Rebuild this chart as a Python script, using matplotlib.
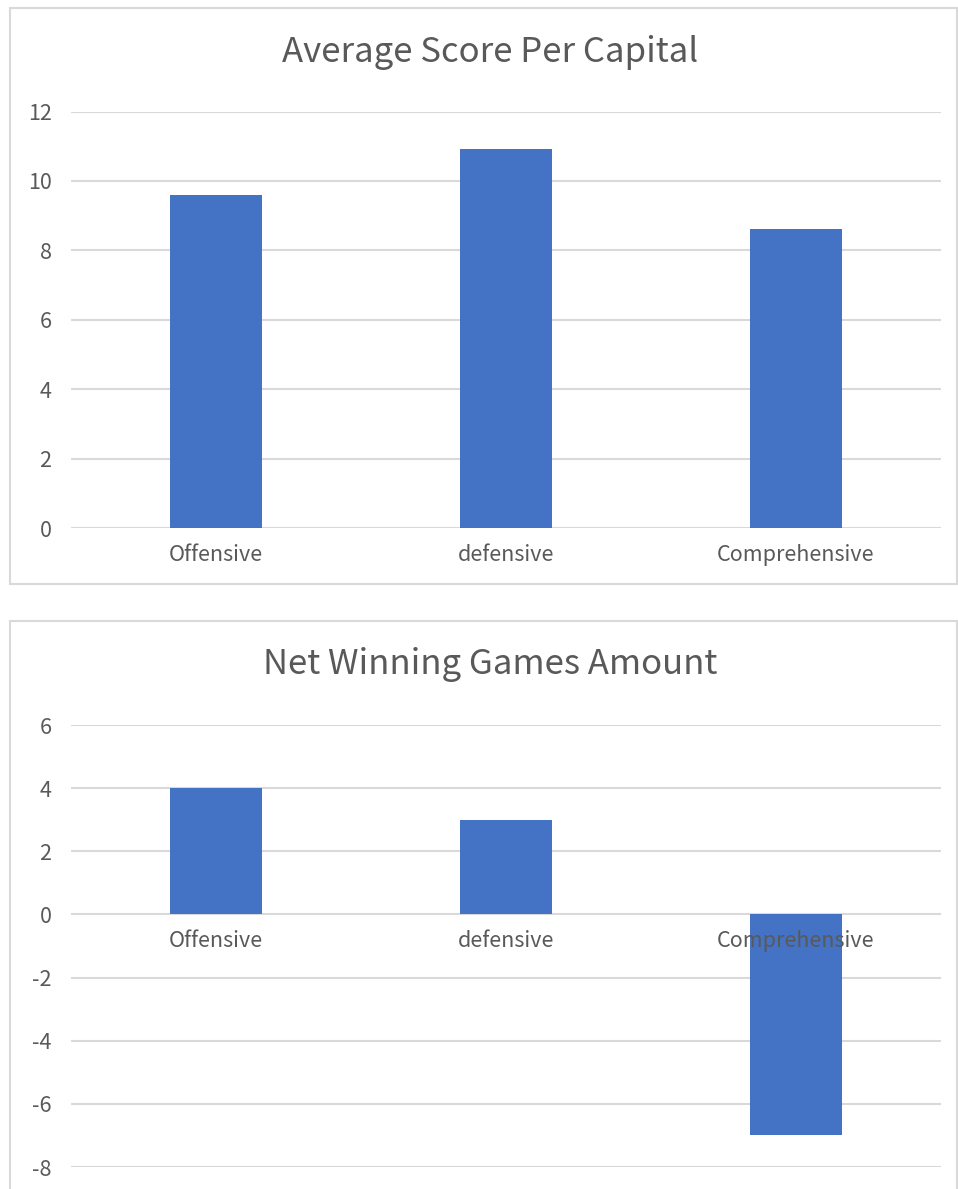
import matplotlib.pyplot as plt
from matplotlib.patches import Rectangle

plt.rcParams['font.family'] = ['Noto Sans CJK SC', 'DejaVu Sans']

categories = ["Offensive", "defensive", "Comprehensive"]
avg_score = [9.58, 10.92, 8.61]
net_wins = [4, 3, -7]

bar_color = "#4472C4"
grid_color = "#D9D9D9"
text_color = "#595959"

W, H = 958, 1189
fig = plt.figure(figsize=(W / 100, H / 100), dpi=100)


def px_axes(x0, y0, x1, y1):
    # pixel box (top-left origin) -> figure fraction axes
    return fig.add_axes([x0 / W, 1 - y1 / H, (x1 - x0) / W, (y1 - y0) / H])


def frame(x0, y0, x1, y1):
    fig.patches.append(Rectangle((x0 / W, 1 - y1 / H), (x1 - x0) / W, (y1 - y0) / H,
                                 transform=fig.transFigure, fill=False,
                                 edgecolor=grid_color, linewidth=1.5, zorder=0))


def draw(ax, values, ylim, ticks, title, title_y):
    ax.bar(range(len(values)), values, width=0.314, color=bar_color, zorder=2)
    ax.set_xlim(-0.5, len(values) - 0.5)
    ax.set_ylim(*ylim)
    ax.set_yticks(ticks)
    ax.set_yticklabels([str(t) for t in ticks])
    ax.set_xticks([])
    for t in ticks:
        ax.axhline(t, color=grid_color, linewidth=1.5, zorder=1)
    for s in ax.spines.values():
        s.set_visible(False)
    ax.tick_params(axis='y', length=0, pad=14, labelsize=15.5, labelcolor=text_color)
    for i, c in enumerate(categories):
        ax.annotate(c, (i, 0), xytext=(0, -11.5), textcoords='offset points',
                    ha='center', va='top', fontsize=15.5, color=text_color, zorder=3)
    fig.text(490 / W, 1 - title_y / H, title, ha='center', va='center',
             fontsize=25, color=text_color)


frame(10, 8, 957, 584)
frame(10, 621, 957, 1200)

ax1 = px_axes(71, 111.5, 941, 528)
draw(ax1, avg_score, (0, 12), list(range(0, 13, 2)), "Average Score Per Capital", 52)

ax2 = px_axes(71, 725, 941, 1167)
draw(ax2, net_wins, (-8, 6), list(range(-8, 7, 2)), "Net Winning Games Amount", 665)

fig.savefig("out.png", dpi=100)
